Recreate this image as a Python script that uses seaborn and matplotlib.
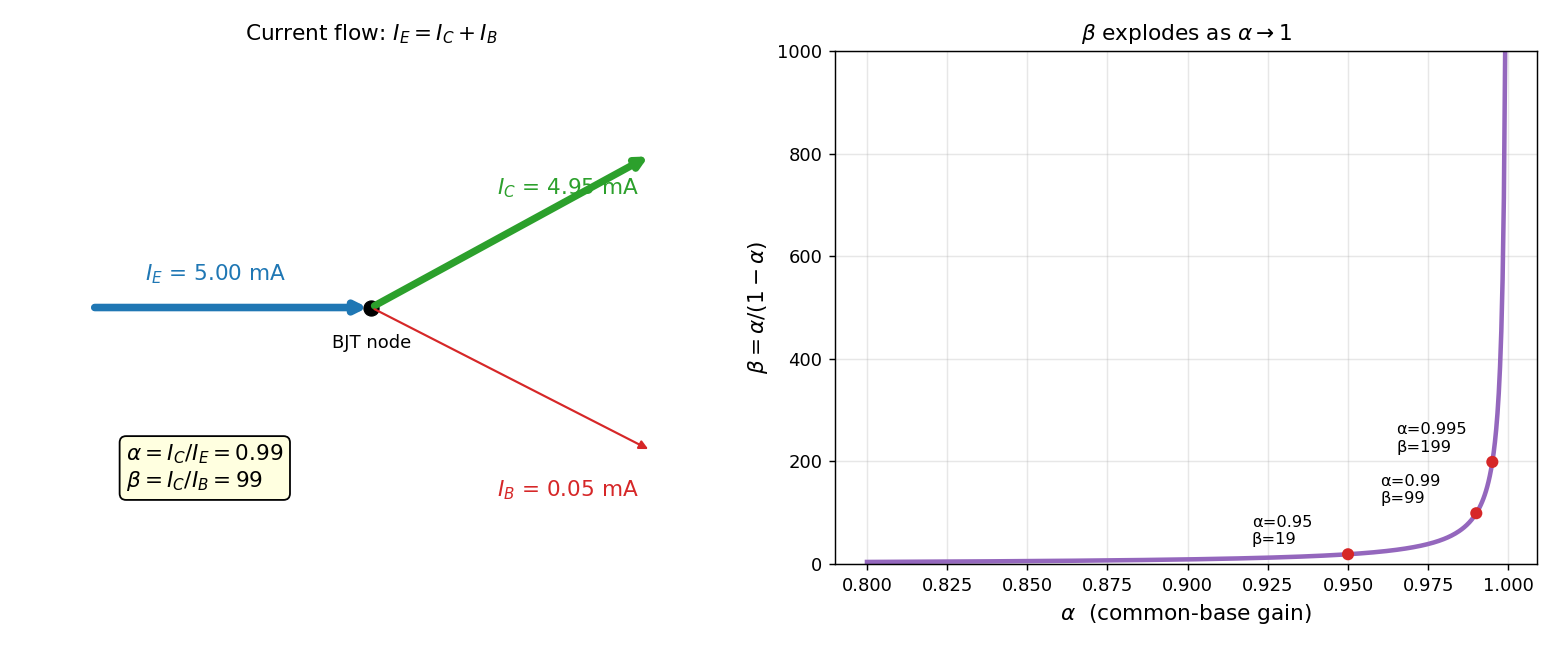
import numpy as np
import matplotlib
matplotlib.use("Agg")
import matplotlib.pyplot as plt
import seaborn as sns

# ---- data ----
I_E = 5.00          # emitter current, mA
alpha_val = 0.99    # common-base gain
I_C = alpha_val * I_E
I_B = I_E - I_C
beta_val = I_C / I_B

current_names = ["E", "C", "B"]
current_values = [I_E, I_C, I_B]

alpha_range = [0.8, 0.999]
highlight_alpha = [0.95, 0.99, 0.995]
highlight_beta = [19, 99, 199]

# ---- figure ----
fig = plt.figure(figsize=(12, 5), dpi=130)
ax1 = fig.add_axes([0.0135, 0.1323, 0.449, 0.7892])
ax2 = fig.add_axes([0.5353, 0.1323, 0.4500, 0.7892])

# Left: current flow diagram
ax1.set_xlim(-1.5, 1.5)
ax1.set_ylim(-1.2, 1.2)
ax1.axis("off")
ax1.set_title(r"Current flow: $I_E = I_C + I_B$", fontsize=12)

sns.scatterplot(x=[0], y=[0], ax=ax1, color="black", s=70, zorder=2,
                edgecolor="black", legend=False)

arrow_specs = [
    ((-1.2, 0.0), (0.0, 0.0), "#1f77b4", 4.2),
    ((0.0, 0.0), (1.2, 0.715), "#2ca02c", 4.0),
    ((0.0, 0.0), (1.2, -0.67), "#d62728", 1.2),
]
for (start, end, col, lw) in arrow_specs:
    ax1.annotate("", xy=end, xytext=start,
                 arrowprops=dict(arrowstyle="-|>", color=col, lw=lw,
                                 mutation_scale=12 if lw > 2 else 10,
                                 capstyle="round", joinstyle="round"),
                 zorder=3)

ax1.text(-0.665, 0.157, rf"$I_E$ = {current_values[0]:.2f} mA",
         color="#1f77b4", fontsize=12, ha="center", va="center")
ax1.text(0.841, 0.558, rf"$I_C$ = {current_values[1]:.2f} mA",
         color="#2ca02c", fontsize=12, ha="center", va="center")
ax1.text(0.841, -0.857, rf"$I_B$ = {current_values[2]:.2f} mA",
         color="#d62728", fontsize=12, ha="center", va="center")
ax1.text(0.0, -0.168, "BJT node", fontsize=10, ha="center", va="center")

ax1.text(-1.05, -0.75,
         rf"$\alpha = I_C/I_E = {alpha_val:.2f}$" + "\n" + rf"$\beta = I_C/I_B = {beta_val:.0f}$",
         fontsize=12, ha="left", va="center",
         bbox=dict(boxstyle="round,pad=0.3", facecolor="lightyellow", edgecolor="black"))

# Right: beta vs alpha
alpha_grid = np.linspace(alpha_range[0], alpha_range[1], 500)
beta_grid = alpha_grid / (1 - alpha_grid)
sns.lineplot(x=alpha_grid, y=beta_grid, ax=ax2, color="#9467bd", lw=2.5,
             estimator=None, sort=False)
sns.scatterplot(x=highlight_alpha, y=highlight_beta, ax=ax2, color="#d62728",
                s=45, zorder=5, edgecolor="none", legend=False)
for a, b in zip(highlight_alpha, highlight_beta):
    ax2.text(a - 0.03, b + 20, f"α={a}\nβ={b}", fontsize=9)

ax2.set_ylim(0, 1000)
ax2.set_xlabel(r"$\alpha$  (common-base gain)", fontsize=12)
ax2.set_ylabel(r"$\beta = \alpha/(1-\alpha)$", fontsize=12)
ax2.set_title(r"$\beta$ explodes as $\alpha \to 1$", fontsize=12)
ax2.grid(True, alpha=0.3)

fig.savefig("out.png", dpi=130)
